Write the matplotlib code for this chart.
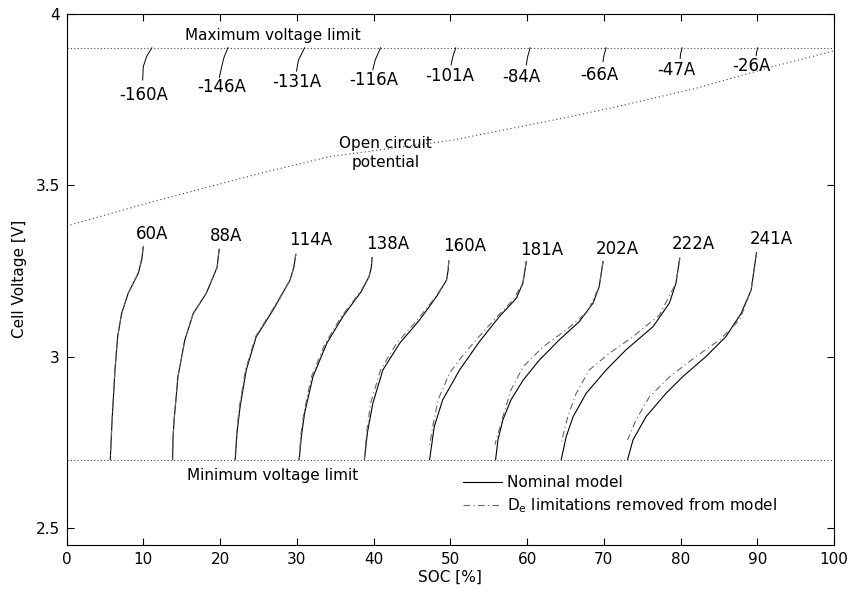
import matplotlib
matplotlib.use("Agg")
import matplotlib.pyplot as plt

plt.rcParams['font.family'] = ['DejaVu Sans']
plt.rcParams['font.size'] = 11

# discharge currents and curves (SOC %, cell voltage V)
dis_labels = ['60A', '88A', '114A', '138A', '160A', '181A', '202A', '222A', '241A']
dis_label_soc = [11.1, 20.8, 31.8, 41.8, 51.9, 61.9, 71.8, 81.7, 91.8]
dis_label_v = [3.356, 3.351, 3.339, 3.328, 3.322, 3.312, 3.315, 3.328, 3.342]

nom_soc = [
    [9.97, 9.8, 9.33, 8.02, 7.16, 6.64, 6.29, 5.94, 5.8, 5.68],
    [19.87, 19.6, 18.2, 16.5, 15.4, 14.5, 14.0, 13.85, 13.8],
    [29.86, 29.6, 29.1, 26.9, 24.7, 23.4, 22.6, 22.2, 21.96],
    [39.8, 39.7, 39.4, 38.4, 36.0, 33.9, 32.1, 31.0, 30.6, 30.3],
    [49.8, 49.7, 49.5, 48.2, 46.0, 43.4, 41.2, 39.9, 39.2, 38.8],
    [59.9, 59.45, 58.6, 56.4, 53.8, 51.2, 49.0, 47.9, 47.3],
    [69.9, 69.4, 68.6, 66.8, 64.2, 61.6, 59.5, 57.9, 56.85, 56.2, 55.9],
    [79.9, 79.4, 78.55, 76.4, 72.9, 70.3, 67.7, 66.0, 65.1, 64.45],
    [89.9, 89.2, 87.9, 85.9, 83.3, 80.3, 78.1, 75.5, 73.8, 73.1],
]
nom_v = [
    [3.320, 3.285, 3.243, 3.185, 3.126, 3.058, 2.961, 2.825, 2.76, 2.70],
    [3.313, 3.26, 3.185, 3.126, 3.049, 2.942, 2.816, 2.76, 2.70],
    [3.298, 3.26, 3.223, 3.136, 3.058, 2.961, 2.854, 2.78, 2.70],
    [3.289, 3.26, 3.233, 3.190, 3.117, 3.039, 2.942, 2.835, 2.77, 2.70],
    [3.279, 3.25, 3.223, 3.175, 3.107, 3.039, 2.961, 2.864, 2.78, 2.70],
    [3.277, 3.214, 3.170, 3.117, 3.044, 2.961, 2.874, 2.796, 2.70],
    [3.277, 3.204, 3.156, 3.102, 3.049, 2.990, 2.932, 2.874, 2.816, 2.757, 2.70],
    [3.287, 3.214, 3.156, 3.087, 3.020, 2.961, 2.893, 2.825, 2.767, 2.70],
    [3.303, 3.194, 3.126, 3.058, 3.000, 2.942, 2.893, 2.825, 2.757, 2.70],
]

# De limitations removed
de_soc = [
    [9.97, 9.8, 9.33, 8.02, 7.16, 6.64, 6.29, 5.94, 5.8, 5.68],
    [19.87, 19.6, 18.2, 16.5, 15.4, 14.5, 14.0, 13.85, 13.8],
    [29.86, 29.6, 29.1, 26.8, 24.6, 23.3, 22.5, 22.15, 21.96],
    [39.8, 39.7, 39.4, 38.3, 35.8, 33.7, 31.9, 30.9, 30.5, 30.3],
    [49.8, 49.7, 49.5, 48.1, 45.7, 43.0, 40.9, 39.6, 39.1, 38.8],
    [59.9, 59.45, 58.15, 55.5, 53.4, 51.5, 49.9, 48.4, 47.7, 47.3],
    [69.9, 69.4, 67.9, 65.1, 62.1, 59.5, 57.9, 56.85, 55.8],
    [79.9, 79.4, 77.25, 73.8, 70.75, 68.1, 66.4, 65.3, 64.45],
    [89.9, 89.2, 87.7, 85.1, 82.0, 78.6, 75.95, 74.2, 73.1],
]
de_v = [
    [3.320, 3.285, 3.243, 3.185, 3.126, 3.058, 2.961, 2.825, 2.76, 2.70],
    [3.313, 3.26, 3.185, 3.126, 3.049, 2.942, 2.816, 2.76, 2.70],
    [3.298, 3.26, 3.223, 3.136, 3.058, 2.961, 2.854, 2.78, 2.70],
    [3.289, 3.26, 3.233, 3.190, 3.117, 3.039, 2.942, 2.835, 2.77, 2.70],
    [3.279, 3.25, 3.223, 3.175, 3.107, 3.039, 2.961, 2.864, 2.78, 2.70],
    [3.277, 3.214, 3.165, 3.102, 3.050, 3.000, 2.952, 2.874, 2.796, 2.74],
    [3.277, 3.204, 3.131, 3.078, 3.029, 2.971, 2.903, 2.825, 2.743],
    [3.287, 3.214, 3.121, 3.058, 3.010, 2.961, 2.893, 2.825, 2.748],
    [3.303, 3.194, 3.107, 3.049, 3.000, 2.942, 2.883, 2.816, 2.757],
]

# charge curves near the upper limit
chg_labels = ['-160A', '-146A', '-131A', '-116A', '-101A', '-84A', '-66A', '-47A', '-26A']
chg_label_soc = [10.0, 20.2, 30.0, 40.0, 49.9, 59.3, 69.4, 79.4, 89.2]
chg_label_v = [3.762, 3.786, 3.801, 3.806, 3.818, 3.814, 3.821, 3.835, 3.847]
chg_soc = [
    [11.1, 10.4, 9.98, 9.9],
    [21.0, 20.5, 20.2, 19.9],
    [31.0, 30.2, 29.95],
    [40.9, 40.2, 39.9],
    [50.7, 50.3, 50.1],
    [60.4, 60.05, 59.9],
    [70.3, 70.0, 69.9],
    [80.2, 80.0, 79.95],
    [90.05, 89.9, 89.85],
]
chg_v = [
    [3.90, 3.874, 3.845, 3.806],
    [3.90, 3.872, 3.845, 3.814],
    [3.90, 3.864, 3.832],
    [3.90, 3.864, 3.836],
    [3.90, 3.872, 3.85],
    [3.90, 3.872, 3.85],
    [3.90, 3.876, 3.86],
    [3.90, 3.882, 3.869],
    [3.90, 3.886, 3.877],
]

# open circuit potential
ocv_soc = [0, 12.1, 25.2, 34.3, 50.3, 64.7, 72.0, 82.0, 92.0, 100]
ocv_v = [3.381, 3.457, 3.534, 3.583, 3.631, 3.695, 3.730, 3.782, 3.845, 3.891]

v_max = 3.9
v_min = 2.7

fig = plt.figure(figsize=(8.54, 5.97), dpi=100)
ax = fig.add_axes([66.7 / 854, 1 - 545 / 597, (834 - 66.7) / 854, (545 - 13.5) / 597])

ax.axhline(v_max, color='#444444', ls=(0, (1, 2)), lw=0.8)
ax.axhline(v_min, color='#444444', ls=(0, (1, 2)), lw=0.8)
ax.plot(ocv_soc, ocv_v, color='#444444', ls=(0, (1, 2.5)), lw=0.8)

for i in range(len(dis_labels)):
    l1, = ax.plot(nom_soc[i], nom_v[i], color='black', lw=0.8)
    l2, = ax.plot(de_soc[i], de_v[i], color='#666666', lw=0.8, ls=(0, (6, 3, 1, 3)))
    ax.text(dis_label_soc[i], dis_label_v[i], dis_labels[i], ha='center', va='center', fontsize=12)

for i in range(len(chg_labels)):
    ax.plot(chg_soc[i], chg_v[i], color='black', lw=0.7)
    ax.text(chg_label_soc[i], chg_label_v[i], chg_labels[i], ha='center', va='center', fontsize=12)

ax.text(26.9, 3.937, 'Maximum voltage limit', ha='center', va='center')
ax.text(26.9, 2.655, 'Minimum voltage limit', ha='center', va='center')
ax.text(41.6, 3.593, 'Open circuit\npotential', ha='center', va='center', linespacing=1.3)

ax.legend([l1, l2], ['Nominal model', '$\\mathregular{D_e}$ limitations removed from model'],
          loc='upper left', bbox_to_anchor=(0.516, 0.131), frameon=False,
          handlelength=2.6, handletextpad=0.3, labelspacing=0.4, borderaxespad=0,
          borderpad=0)

ax.set_xlim(0, 100)
ax.set_ylim(2.451, 4.0)
ax.set_xticks(range(0, 101, 10))
ax.set_yticks([2.5, 3, 3.5, 4])
ax.set_yticklabels(['2.5', '3', '3.5', '4'])
ax.tick_params(direction='in', top=True, right=True, length=5, labelsize=11, pad=5)
ax.set_xlabel('SOC [%]', labelpad=2)
ax.set_ylabel('Cell Voltage [V]', labelpad=6)

fig.savefig('out.png', dpi=100)
